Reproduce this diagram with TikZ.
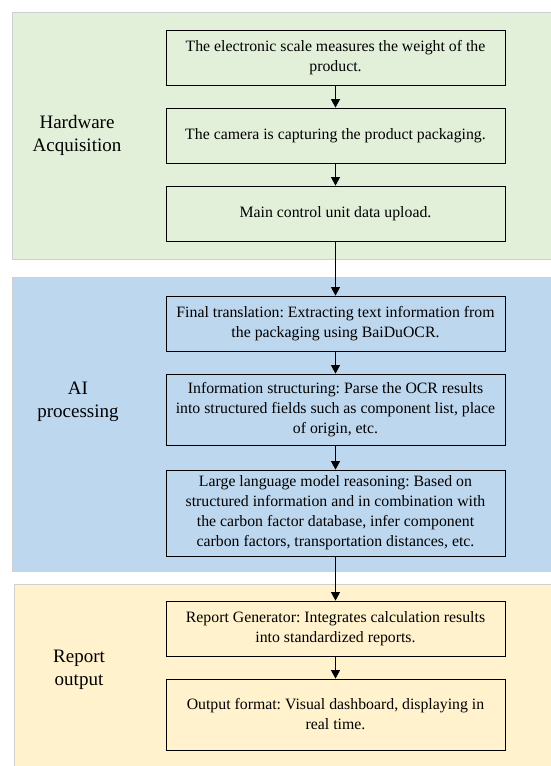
\documentclass[tikz,border=0pt]{standalone}
\usepackage{fontspec}
\setmainfont{Liberation Serif}
\usetikzlibrary{positioning}
\usetikzlibrary{arrows.meta}
\definecolor{hwgreen}{RGB}{226,239,217}
\definecolor{aiblue}{RGB}{189,215,238}
\definecolor{rpyellow}{RGB}{255,242,204}
\definecolor{panelgray}{RGB}{208,208,208}
\frenchspacing

\begin{document}
\begin{tikzpicture}[x=1pt, y=-1pt,
    stepbox/.style={draw, line width=0.8pt, align=center,
        minimum width=339pt, inner sep=0pt,
        font=\fontsize{15.8}{20}\selectfont},
    panel/.style={draw=panelgray, line width=1pt},
    grouplabel/.style={align=center, font=\fontsize{19}{23}\selectfont},
    flow/.style={-{Triangle[length=8.5pt, width=9pt]}, line width=0.8pt}]
    \useasboundingbox (0,0) rectangle (550,766);
    % panels
    \draw[panel, fill=hwgreen] (12,12) rectangle (551,259);
    \draw[panel, fill=aiblue] (12,277) rectangle (551,571);
    \draw[panel, fill=rpyellow] (14,584) rectangle (551,767);
    % group labels
    \node[grouplabel] (hwlbl) at (77,135) {Hardware\\Acquisition};
    \node[grouplabel] (ailbl) at (78,402) {AI\\processing};
    \node[grouplabel] (rplbl) at (79,670) {Report\\output};
    % hardware steps
    \node[stepbox, minimum height=55pt] (scale) at (335.5,57.5)
        {The electronic scale measures the weight of the\\product.};
    \node[stepbox, minimum height=55pt] (camera) at (335.5,135.5)
        {The camera is capturing the product packaging.};
    \node[stepbox, minimum height=55pt] (upload) at (335.5,213.5)
        {Main control unit data upload.};
    % AI steps
    \node[stepbox, minimum height=55pt] (ocr) at (335.5,323.5)
        {Final translation: Extracting text information from\\the packaging using BaiDuOCR.};
    \node[stepbox, minimum height=71pt] (struct) at (335.5,409.5)
        {Information structuring: Parse the OCR results\\into structured fields such as component list, place\\of origin, etc.};
    \node[stepbox, minimum height=86pt] (llm) at (335.5,513)
        {Large language model reasoning: Based on\\structured information and in combination with\\the carbon factor database, infer component\\carbon factors, transportation distances, etc.};
    % report steps
    \node[stepbox, minimum height=55pt] (report) at (335.5,628.5)
        {Report Generator: Integrates calculation results\\into standardized reports.};
    \node[stepbox, minimum height=71pt] (dash) at (335.5,714.5)
        {Output format: Visual dashboard, displaying in\\real time.};
    % arrows
    \foreach \a/\b in {scale/camera, camera/upload, upload/ocr, ocr/struct,
                       struct/llm, llm/report, report/dash} {
        \draw[flow] (\a) -- (\b);
    }
\end{tikzpicture}
\end{document}
